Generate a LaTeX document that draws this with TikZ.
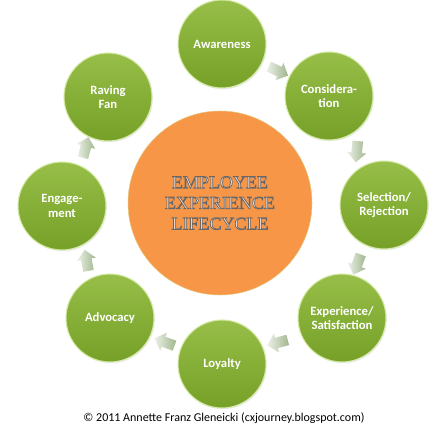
\documentclass[tikz,border=0pt]{standalone}
\usepackage{fontspec}
\setmainfont{Carlito}
\newfontfamily\serifcore{Liberation Serif}
\usetikzlibrary{shapes.arrows,shadows}
\definecolor{stagetop}{RGB}{150,190,72}
\definecolor{stagebottom}{RGB}{118,160,40}
\definecolor{stagerim}{RGB}{214,234,168}
\definecolor{coreorange}{RGB}{246,150,70}
\definecolor{coretext}{RGB}{242,234,234}
\definecolor{flowgray}{RGB}{160,182,140}
% outlined text for the centre
\newcommand{\glowline}[1]{\special{pdf:literal direct 2 Tr 0.55 w 0.42 0.40 0.40 RG}#1\special{pdf:literal direct 0 Tr}}

\tikzset{
  stage/.style={circle, minimum size=66pt, inner sep=0pt, align=center,
    top color=stagetop, bottom color=stagebottom, draw=stagerim, line width=0.8pt,
    text=white, font=\bfseries\fontsize{9.5}{11}\selectfont,
    drop shadow={opacity=0.15, shadow xshift=0.6pt, shadow yshift=-1pt}},
  core/.style={circle, minimum size=138pt, inner sep=0pt, align=center,
    fill=coreorange, draw=stagerim!60!coreorange, line width=0.4pt,
    text=coretext, font=\serifcore\fontsize{13.5}{15.5}\selectfont},
  flow/.style={single arrow, minimum height=16pt, inner sep=3.8pt,
    single arrow head extend=3.2pt, draw=none,
    left color=flowgray!20!white, right color=flowgray}
}

\begin{document}
\begin{tikzpicture}[x=0.75pt, y=-0.75pt]
  \useasboundingbox (0,0) rectangle (446,427);
  \node[core] (lifecycle) at (220,203) {\glowline{EMPLOYEE}\\\glowline{EXPERIENCE}\\\glowline{LIFECYCLE}};
  \node[stage] (awareness) at (222,44) {Awareness};
  \node[stage] (consider) at (329,96) {Considera-\\tion};
  \node[stage] (selection) at (384,205) {Selection/\\Rejection};
  \node[stage] (experience) at (342,318) {Experience/\\Satisfaction};
  \node[stage] (loyalty) at (222,364) {Loyalty};
  \node[stage] (advocacy) at (110,318) {Advocacy};
  \node[stage] (engage) at (62,206) {Engage-\\ment};
  \node[stage] (raving) at (108,97) {Raving\\Fan};
  \node[flow, rotate=-25] (toconsider) at (276,70) {};
  \node[flow, rotate=-95] (toselection) at (357,149) {};
  \node[flow, rotate=-110] (toexperience) at (358,262) {};
  \node[flow, rotate=195] (toloyalty) at (280,342) {};
  \node[flow, rotate=160] (toadvocacy) at (167,343) {};
  \node[flow, rotate=100] (toengage) at (87,263) {};
  \node[flow, rotate=75] (toraving) at (85,150) {};
  \node[font=\fontsize{9}{11}\selectfont] (credit) at (224,418) {© 2011 Annette Franz Gleneicki (cxjourney.blogspot.com)};
\end{tikzpicture}
\end{document}
